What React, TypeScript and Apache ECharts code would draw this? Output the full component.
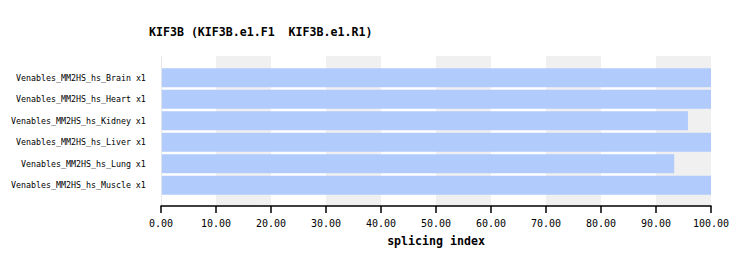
import React, { useEffect, useRef } from "react";
import * as echarts from "echarts";

const titleText = "KIF3B (KIF3B.e1.F1  KIF3B.e1.R1)";
const axisTitle = "splicing index";
const categories = [
  "Venables_MM2HS_hs_Brain x1",
  "Venables_MM2HS_hs_Heart x1",
  "Venables_MM2HS_hs_Kidney x1",
  "Venables_MM2HS_hs_Liver x1",
  "Venables_MM2HS_hs_Lung x1",
  "Venables_MM2HS_hs_Muscle x1",
];
const values = [100, 100, 95.8, 100, 93.3, 100];
const xMin = 0;
const xMax = 100;
const xInterval = 10;

const MONO = "'DejaVu Sans Mono', 'Liberation Mono', monospace";

export default function App() {
  const ref = useRef<HTMLDivElement>(null);
  useEffect(() => {
    if (!ref.current) return;
    const chart = echarts.init(ref.current, undefined, { renderer: "svg" });
    chart.setOption({
      animation: false,
      backgroundColor: "#ffffff",
      title: {
        text: titleText,
        left: 136,
        top: 13,
        textStyle: { fontFamily: MONO, fontSize: 11.6, fontWeight: "bold", color: "#000" },
      },
      grid: [
        { left: 153, top: 48, width: 550, height: 150, containLabel: false },
        { left: 153, top: 59, width: 550, height: 129, containLabel: false },
      ],
      xAxis: [
        {
          gridIndex: 0,
          type: "value",
          min: xMin,
          max: xMax,
          interval: xInterval,
          name: axisTitle,
          nameLocation: "middle",
          nameGap: 29,
          nameTextStyle: { fontFamily: MONO, fontSize: 11.6, fontWeight: "bold", color: "#000" },
          axisLine: { show: true, lineStyle: { color: "#000", width: 1.5 } },
          axisTick: { show: true, length: 7, inside: false, lineStyle: { color: "#000", width: 1.5 } },
          axisLabel: {
            fontFamily: MONO,
            fontSize: 10,
            color: "#000",
            margin: 12,
            formatter: (v: number) => v.toFixed(2),
          },
          splitLine: { show: false },
          splitArea: { show: true, areaStyle: { color: ["#ffffff", "#f0f0f0"] } },
        },
        {
          gridIndex: 1,
          type: "value",
          min: xMin,
          max: xMax,
          show: false,
          splitLine: { show: false },
        },
      ],
      yAxis: [
        {
          gridIndex: 0,
          type: "value",
          min: 0,
          max: 1,
          axisLine: { show: true, lineStyle: { color: "#e8e8e8", width: 1 } },
          axisTick: { show: false },
          axisLabel: { show: false },
          splitLine: { show: false },
        },
        {
          gridIndex: 1,
          type: "category",
          data: categories,
          inverse: true,
          axisLine: { show: false },
          axisTick: { show: false },
          axisLabel: { fontFamily: MONO, fontSize: 8.3, color: "#000", margin: 16 },
        },
      ],
      series: [
        {
          type: "bar",
          xAxisIndex: 1,
          yAxisIndex: 1,
          data: values,
          barCategoryGap: "11%",
          itemStyle: { color: "#b0cbfc" },
          silent: true,
        },
      ],
    });
    return () => chart.dispose();
  }, []);
  return <div ref={ref} style={{ width: 734, height: 250 }} />;
}
